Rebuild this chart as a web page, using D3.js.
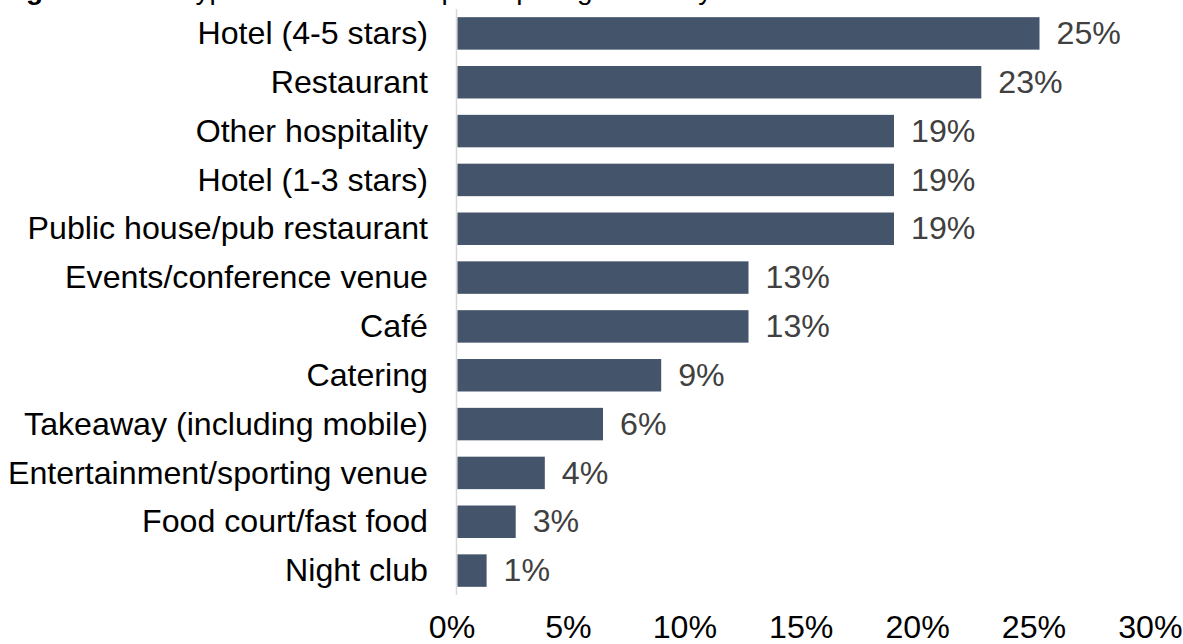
<!DOCTYPE html>
<html>
<head>
<meta charset="utf-8">
<script src="https://cdn.jsdelivr.net/npm/d3@7/dist/d3.min.js"></script>
<style>
  html, body { margin: 0; padding: 0; background: #ffffff; }
  svg { display: block; font-family: "Liberation Sans", Arial, sans-serif; }
</style>
</head>
<body>
<svg id="chart" width="1183" height="644"></svg>
<script>
// Business types, top to bottom
const categories = [
  "Hotel (4-5 stars)",
  "Restaurant",
  "Other hospitality",
  "Hotel (1-3 stars)",
  "Public house/pub restaurant",
  "Events/conference venue",
  "Café",
  "Catering",
  "Takeaway (including mobile)",
  "Entertainment/sporting venue",
  "Food court/fast food",
  "Night club"
];

// Share of participating businesses (%)
const shares = [25, 22.5, 18.75, 18.75, 18.75, 12.5, 12.5, 8.75, 6.25, 3.75, 2.5, 1.25];

// Axis ticks (%)
const tickValues = [0, 5, 10, 15, 20, 25, 30];

const titleLead = "Figure 6:";
const titleText = "Types of businesses participating in survey";

const rows = categories.map((c, i) => ({ category: c, value: shares[i] }));

const svg = d3.select("#chart");

const x = d3.scaleLinear().domain([0, 30]).range([457.5, 1155.9]);
const y = d3.scaleBand()
  .domain(categories)
  .range([9, 595])
  .paddingInner(0.335)
  .paddingOuter(0.1675);

const fmt = v => Math.round(v) + "%";
const FONT = 30.5;
const STRETCH = 1.055; // slightly widened glyphs
const place = (px, py) => `translate(${px},${py}) scale(${STRETCH},1)`;

// Title (sits at the very top edge)
const title = svg.append("text")
  .attr("x", 1)
  .attr("y", -1)
  .attr("font-size", 28)
  .attr("fill", "#000");
title.append("tspan").attr("font-weight", "bold").text(titleLead);
title.append("tspan").attr("x", 180).text(titleText);

// Category axis line
svg.append("line")
  .attr("x1", x(0) - 1)
  .attr("x2", x(0) - 1)
  .attr("y1", y.range()[0])
  .attr("y2", y.range()[1])
  .attr("stroke", "#d9d9d9")
  .attr("stroke-width", 1.5);

// Bars
svg.append("g")
  .selectAll("rect")
  .data(rows)
  .join("rect")
  .attr("x", x(0))
  .attr("y", d => y(d.category))
  .attr("width", d => x(d.value) - x(0))
  .attr("height", y.bandwidth())
  .attr("fill", "#44546a");

// Value labels
svg.append("g")
  .selectAll("text")
  .data(rows)
  .join("text")
  .attr("transform", d => place(x(d.value) + 17, y(d.category) + y.bandwidth() / 2))
  .attr("dy", "0.35em")
  .attr("font-size", FONT)
  .attr("fill", "#404040")
  .text(d => fmt(d.value));

// Category labels
svg.append("g")
  .selectAll("text")
  .data(rows)
  .join("text")
  .attr("transform", d => place(428, y(d.category) + y.bandwidth() / 2))
  .attr("dy", "0.35em")
  .attr("text-anchor", "end")
  .attr("font-size", FONT)
  .attr("fill", "#000")
  .text(d => d.category);

// Value axis (labels only)
const xAxis = d3.axisBottom(x)
  .tickValues(tickValues)
  .tickFormat(d => d + "%")
  .tickSize(0);

const gx = svg.append("g")
  .attr("transform", "translate(-6,638)")
  .call(xAxis);
gx.select(".domain").remove();
gx.selectAll("text")
  .attr("y", 0)
  .attr("dy", 0)
  .attr("transform", `scale(${STRETCH},1)`) // scales about each tick, so labels stay centred
  .attr("font-size", FONT)
  .attr("font-family", "\"Liberation Sans\", Arial, sans-serif")
  .attr("fill", "#000");
</script>
</body>
</html>
